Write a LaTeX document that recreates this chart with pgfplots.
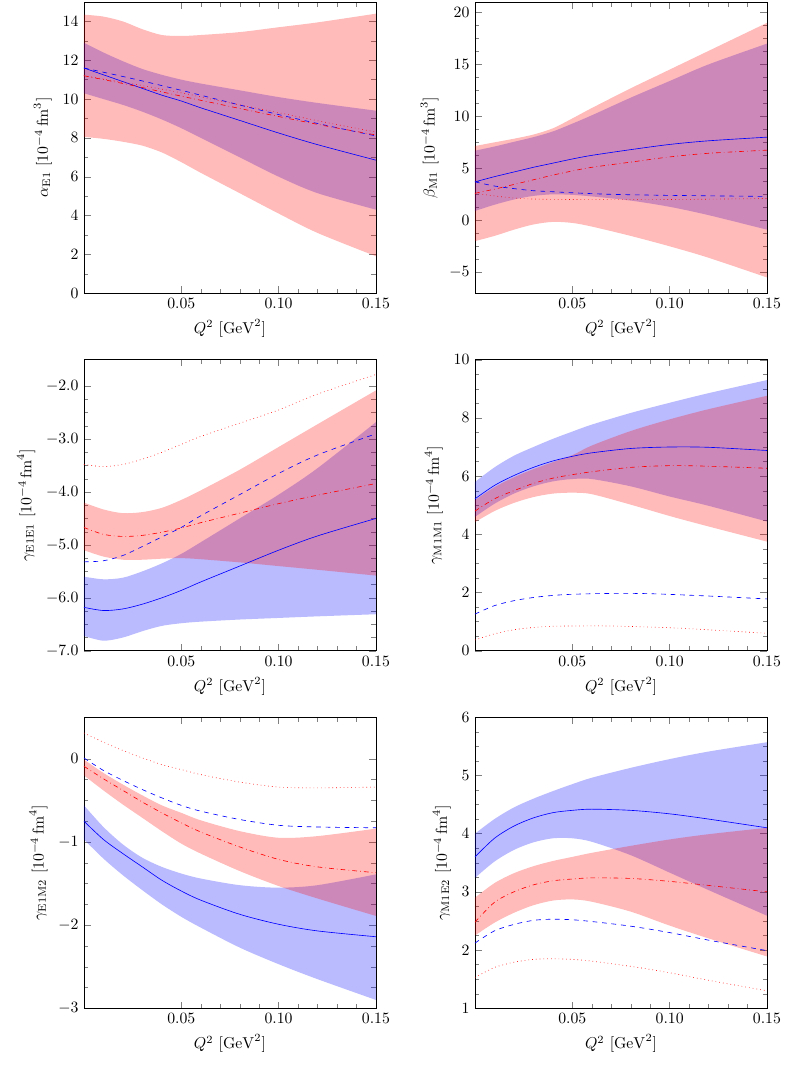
\documentclass[border=0pt]{standalone}
\usepackage{pgfplots}
\pgfplotsset{compat=1.18}
\usepgfplotslibrary{fillbetween}
\pgfplotsset{
  myaxis/.style={scale only axis, width=185.4pt, height=184.8pt,
    anchor=south west, xmin=0, xmax=0.15, xtick={0.05,0.1,0.15},
    minor x tick num=4, minor y tick num=3,
    xticklabel style={/pgf/number format/fixed,/pgf/number format/fixed zerofill,/pgf/number format/precision=2},
    xlabel={$Q^2\ [\mathrm{GeV}^2]$}},
  band/.style={draw=none, smooth, forget plot},
  bfill/.style={fill=blue, fill opacity=0.27, draw=none},
  rfill/.style={fill=red, fill opacity=0.27, draw=none},
  bsol/.style={blue, smooth},
  bdash/.style={blue, dashed, smooth},
  rdd/.style={red, dashdotted, smooth},
  rdot/.style={red, dotted, smooth},
}
\begin{document}
\begin{tikzpicture}
% ---------- panel 1
\begin{axis}[myaxis, at={(53.3pt,491.4pt)}, ymin=0, ymax=15, ytick={0,2,...,14}, minor y tick num=1,
  ylabel={$\alpha_{\mathrm{E1}}\ [10^{-4}\,\mathrm{fm}^3]$}]
\addplot[band, name path=p1ru] coordinates {(0,14.35)(0.01,14.25)(0.02,14.0)(0.03,13.6)(0.04,13.3)(0.05,13.25)(0.06,13.3)(0.08,13.45)(0.10,13.7)(0.12,13.95)(0.15,14.4)};
\addplot[band, name path=p1rl] coordinates {(0,8.05)(0.01,7.95)(0.02,7.8)(0.03,7.6)(0.04,7.25)(0.05,6.75)(0.06,6.2)(0.08,5.15)(0.10,4.1)(0.12,3.1)(0.15,1.9)};
\addplot[band, name path=p1bu] coordinates {(0,12.9)(0.01,12.4)(0.02,11.95)(0.03,11.55)(0.04,11.25)(0.05,11.0)(0.06,10.8)(0.08,10.45)(0.10,10.1)(0.12,9.8)(0.15,9.4)};
\addplot[band, name path=p1bl] coordinates {(0,10.3)(0.01,10.0)(0.02,9.7)(0.03,9.35)(0.04,8.95)(0.05,8.5)(0.06,8.0)(0.08,7.0)(0.10,6.0)(0.12,5.15)(0.15,4.3)};
\addplot[bfill] fill between[of=p1bu and p1bl];
\addplot[rfill] fill between[of=p1ru and p1rl];
\addplot[bsol] coordinates {(0,11.6)(0.01,11.25)(0.02,10.9)(0.03,10.55)(0.04,10.2)(0.05,9.9)(0.06,9.55)(0.08,8.9)(0.10,8.25)(0.12,7.65)(0.15,6.85)};
\addplot[bdash] coordinates {(0,11.6)(0.025,11.05)(0.05,10.45)(0.075,9.82)(0.10,9.2)(0.125,8.63)(0.15,8.1)};
\addplot[rdd] coordinates {(0,11.2)(0.025,10.7)(0.05,10.15)(0.075,9.62)(0.10,9.1)(0.125,8.6)(0.15,8.15)};
\addplot[rdot] coordinates {(0,11.2)(0.025,10.78)(0.05,10.32)(0.075,9.8)(0.10,9.3)(0.125,8.78)(0.15,8.3)};
\end{axis}
% ---------- panel 2
\begin{axis}[myaxis, at={(301.6pt,491.4pt)}, ymin=-7, ymax=21, ytick={-5,0,...,20},
  ylabel={$\beta_{\mathrm{M1}}\ [10^{-4}\,\mathrm{fm}^3]$}]
\addplot[band, name path=p2ru] coordinates {(0,7.15)(0.01,7.5)(0.02,7.85)(0.03,8.25)(0.04,8.85)(0.05,9.8)(0.06,10.8)(0.08,12.7)(0.10,14.5)(0.12,16.3)(0.15,19.0)};
\addplot[band, name path=p2rl] coordinates {(0,-2.0)(0.01,-1.5)(0.02,-0.9)(0.03,-0.4)(0.04,-0.15)(0.05,-0.25)(0.06,-0.6)(0.08,-1.5)(0.10,-2.5)(0.12,-3.6)(0.15,-5.5)};
\addplot[band, name path=p2bu] coordinates {(0,6.7)(0.01,7.1)(0.02,7.55)(0.03,8.0)(0.04,8.55)(0.05,9.3)(0.06,10.1)(0.08,11.8)(0.10,13.4)(0.12,15.0)(0.15,17.0)};
\addplot[band, name path=p2bl] coordinates {(0,0.9)(0.01,1.5)(0.02,2.0)(0.03,2.35)(0.04,2.5)(0.05,2.45)(0.06,2.3)(0.08,1.9)(0.10,1.3)(0.12,0.5)(0.15,-0.9)};
\addplot[bfill] fill between[of=p2bu and p2bl];
\addplot[rfill] fill between[of=p2ru and p2rl];
\addplot[bsol] coordinates {(0,3.7)(0.01,4.2)(0.02,4.65)(0.03,5.1)(0.04,5.5)(0.05,5.9)(0.06,6.25)(0.08,6.8)(0.10,7.3)(0.12,7.65)(0.15,8.0)};
\addplot[bdash] coordinates {(0,3.7)(0.01,3.3)(0.02,3.05)(0.03,2.85)(0.04,2.75)(0.05,2.65)(0.07,2.5)(0.10,2.4)(0.15,2.3)};
\addplot[rdd] coordinates {(0,2.6)(0.01,3.0)(0.02,3.45)(0.03,3.9)(0.04,4.35)(0.05,4.75)(0.06,5.1)(0.08,5.6)(0.10,6.1)(0.12,6.45)(0.15,6.75)};
\addplot[rdot] coordinates {(0,2.6)(0.01,2.35)(0.02,2.15)(0.03,2.05)(0.05,2.0)(0.10,2.0)(0.15,2.1)};
\end{axis}
% ---------- panel 3
\begin{axis}[myaxis, at={(53.3pt,264.3pt)}, ymin=-7, ymax=-1.5, ytick={-7,-6,...,-2},
  yticklabel style={/pgf/number format/fixed,/pgf/number format/fixed zerofill,/pgf/number format/precision=1},
  ylabel={$\gamma_{\mathrm{E1E1}}\ [10^{-4}\,\mathrm{fm}^4]$}]
\addplot[band, name path=p3ru] coordinates {(0,-4.2)(0.01,-4.33)(0.02,-4.4)(0.03,-4.38)(0.04,-4.3)(0.05,-4.15)(0.06,-3.97)(0.08,-3.58)(0.10,-3.15)(0.12,-2.72)(0.15,-2.08)};
\addplot[band, name path=p3rl] coordinates {(0,-5.1)(0.01,-5.22)(0.02,-5.28)(0.03,-5.28)(0.04,-5.26)(0.05,-5.25)(0.06,-5.27)(0.08,-5.33)(0.10,-5.4)(0.12,-5.47)(0.15,-5.58)};
\addplot[band, name path=p3bu] coordinates {(0,-5.6)(0.01,-5.65)(0.02,-5.62)(0.03,-5.5)(0.04,-5.35)(0.05,-5.17)(0.06,-4.95)(0.08,-4.5)(0.10,-4.05)(0.12,-3.55)(0.15,-2.68)};
\addplot[band, name path=p3bl] coordinates {(0,-6.72)(0.01,-6.81)(0.02,-6.75)(0.03,-6.63)(0.04,-6.53)(0.05,-6.48)(0.06,-6.45)(0.08,-6.41)(0.10,-6.38)(0.12,-6.35)(0.15,-6.31)};
\addplot[bfill] fill between[of=p3bu and p3bl];
\addplot[rfill] fill between[of=p3ru and p3rl];
\addplot[bsol] coordinates {(0,-6.18)(0.01,-6.24)(0.02,-6.21)(0.03,-6.12)(0.04,-6.0)(0.05,-5.86)(0.06,-5.7)(0.08,-5.4)(0.10,-5.1)(0.12,-4.83)(0.15,-4.5)};
\addplot[bdash] coordinates {(0,-5.32)(0.01,-5.3)(0.02,-5.2)(0.03,-5.03)(0.04,-4.85)(0.05,-4.67)(0.06,-4.45)(0.08,-4.05)(0.10,-3.65)(0.12,-3.3)(0.15,-2.9)};
\addplot[rdd] coordinates {(0,-4.67)(0.01,-4.8)(0.02,-4.84)(0.03,-4.82)(0.04,-4.76)(0.05,-4.68)(0.06,-4.58)(0.08,-4.4)(0.10,-4.22)(0.12,-4.06)(0.15,-3.84)};
\addplot[rdot] coordinates {(0,-3.48)(0.01,-3.52)(0.02,-3.48)(0.03,-3.38)(0.04,-3.25)(0.05,-3.1)(0.06,-2.95)(0.08,-2.7)(0.10,-2.45)(0.12,-2.15)(0.15,-1.78)};
\end{axis}
% ---------- panel 4
\begin{axis}[myaxis, at={(301.6pt,264.3pt)}, ymin=0, ymax=10, ytick={0,2,...,10},
  ylabel={$\gamma_{\mathrm{M1M1}}\ [10^{-4}\,\mathrm{fm}^4]$}]
\addplot[band, name path=p4ru] coordinates {(0,5.18)(0.01,5.62)(0.02,5.96)(0.03,6.24)(0.04,6.48)(0.05,6.72)(0.06,7.05)(0.08,7.55)(0.10,7.95)(0.12,8.3)(0.15,8.76)};
\addplot[band, name path=p4rl] coordinates {(0,4.42)(0.01,4.8)(0.02,5.08)(0.03,5.28)(0.04,5.4)(0.05,5.43)(0.06,5.38)(0.08,5.02)(0.10,4.63)(0.12,4.27)(0.15,3.75)};
\addplot[band, name path=p4bu] coordinates {(0,5.8)(0.01,6.3)(0.02,6.7)(0.03,7.0)(0.04,7.28)(0.05,7.53)(0.06,7.77)(0.08,8.17)(0.10,8.52)(0.12,8.85)(0.15,9.3)};
\addplot[band, name path=p4bl] coordinates {(0,4.6)(0.01,5.05)(0.02,5.4)(0.03,5.65)(0.04,5.82)(0.05,5.9)(0.06,5.9)(0.08,5.65)(0.10,5.3)(0.12,4.98)(0.15,4.44)};
\addplot[bfill] fill between[of=p4bu and p4bl];
\addplot[rfill] fill between[of=p4ru and p4rl];
\addplot[bsol] coordinates {(0,5.22)(0.01,5.68)(0.02,6.02)(0.03,6.3)(0.04,6.52)(0.05,6.68)(0.06,6.8)(0.08,6.95)(0.10,7.0)(0.12,6.99)(0.15,6.88)};
\addplot[bdash] coordinates {(0,1.26)(0.01,1.55)(0.02,1.72)(0.03,1.83)(0.04,1.9)(0.05,1.94)(0.07,1.97)(0.09,1.96)(0.12,1.88)(0.15,1.78)};
\addplot[rdd] coordinates {(0,4.8)(0.01,5.22)(0.02,5.5)(0.03,5.75)(0.04,5.93)(0.05,6.05)(0.06,6.15)(0.08,6.3)(0.10,6.36)(0.12,6.34)(0.15,6.27)};
\addplot[rdot] coordinates {(0,0.37)(0.01,0.58)(0.02,0.72)(0.03,0.8)(0.04,0.84)(0.05,0.85)(0.07,0.85)(0.10,0.79)(0.12,0.72)(0.15,0.6)};
\end{axis}
% ---------- panel 5
\begin{axis}[myaxis, at={(53.3pt,37.3pt)}, ymin=-3, ymax=0.5, ytick={-3,-2,-1,0},
  ylabel={$\gamma_{\mathrm{E1M2}}\ [10^{-4}\,\mathrm{fm}^4]$}]
\addplot[band, name path=p5ru] coordinates {(0,-0.01)(0.01,-0.17)(0.02,-0.31)(0.03,-0.44)(0.04,-0.56)(0.05,-0.65)(0.06,-0.74)(0.08,-0.87)(0.10,-0.95)(0.12,-0.93)(0.15,-0.84)};
\addplot[band, name path=p5rl] coordinates {(0,-0.2)(0.01,-0.38)(0.02,-0.55)(0.03,-0.71)(0.04,-0.87)(0.05,-1.02)(0.06,-1.14)(0.08,-1.35)(0.10,-1.53)(0.12,-1.68)(0.15,-1.89)};
\addplot[band, name path=p5bu] coordinates {(0,-0.56)(0.01,-0.82)(0.02,-1.03)(0.03,-1.19)(0.04,-1.3)(0.05,-1.38)(0.06,-1.44)(0.08,-1.52)(0.10,-1.55)(0.12,-1.52)(0.15,-1.39)};
\addplot[band, name path=p5bl] coordinates {(0,-0.97)(0.01,-1.2)(0.02,-1.4)(0.03,-1.58)(0.04,-1.75)(0.05,-1.9)(0.06,-2.03)(0.08,-2.27)(0.10,-2.47)(0.12,-2.65)(0.15,-2.9)};
\addplot[bfill] fill between[of=p5bu and p5bl];
\addplot[rfill] fill between[of=p5ru and p5rl];
\addplot[bsol] coordinates {(0,-0.75)(0.01,-0.97)(0.02,-1.14)(0.03,-1.3)(0.04,-1.46)(0.05,-1.59)(0.06,-1.7)(0.08,-1.87)(0.10,-1.99)(0.12,-2.07)(0.15,-2.14)};
\addplot[bdash] coordinates {(0,0.01)(0.01,-0.14)(0.02,-0.26)(0.03,-0.37)(0.04,-0.47)(0.05,-0.56)(0.06,-0.63)(0.08,-0.73)(0.10,-0.8)(0.12,-0.82)(0.15,-0.83)};
\addplot[rdd] coordinates {(0,-0.09)(0.01,-0.24)(0.02,-0.38)(0.03,-0.52)(0.04,-0.65)(0.05,-0.77)(0.06,-0.88)(0.08,-1.06)(0.10,-1.21)(0.12,-1.3)(0.15,-1.37)};
\addplot[rdot] coordinates {(0,0.31)(0.01,0.2)(0.02,0.1)(0.03,0.01)(0.04,-0.07)(0.05,-0.13)(0.06,-0.19)(0.08,-0.28)(0.10,-0.34)(0.12,-0.35)(0.15,-0.34)};
\end{axis}
% ---------- panel 6
\begin{axis}[myaxis, at={(301.6pt,37.3pt)}, ymin=1, ymax=6, ytick={1,2,...,6},
  ylabel={$\gamma_{\mathrm{M1E2}}\ [10^{-4}\,\mathrm{fm}^4]$}]
\addplot[band, name path=p6ru] coordinates {(0,2.9)(0.01,3.15)(0.02,3.32)(0.03,3.44)(0.04,3.53)(0.05,3.6)(0.06,3.67)(0.08,3.79)(0.10,3.9)(0.12,3.99)(0.15,4.1)};
\addplot[band, name path=p6rl] coordinates {(0,2.25)(0.01,2.47)(0.02,2.64)(0.03,2.77)(0.04,2.85)(0.05,2.87)(0.06,2.83)(0.08,2.66)(0.10,2.42)(0.12,2.2)(0.15,1.89)};
\addplot[band, name path=p6bu] coordinates {(0,4.0)(0.01,4.25)(0.02,4.45)(0.03,4.6)(0.04,4.73)(0.05,4.85)(0.06,4.96)(0.08,5.13)(0.10,5.28)(0.12,5.41)(0.15,5.57)};
\addplot[band, name path=p6bl] coordinates {(0,3.24)(0.01,3.52)(0.02,3.72)(0.03,3.85)(0.04,3.92)(0.05,3.92)(0.06,3.86)(0.08,3.63)(0.10,3.33)(0.12,3.03)(0.15,2.59)};
\addplot[bfill] fill between[of=p6bu and p6bl];
\addplot[rfill] fill between[of=p6ru and p6rl];
\addplot[bsol] coordinates {(0,3.6)(0.01,3.92)(0.02,4.13)(0.03,4.27)(0.04,4.36)(0.05,4.4)(0.06,4.42)(0.08,4.4)(0.10,4.34)(0.12,4.25)(0.15,4.1)};
\addplot[bdash] coordinates {(0,2.12)(0.01,2.33)(0.02,2.44)(0.03,2.51)(0.04,2.53)(0.05,2.52)(0.06,2.49)(0.08,2.41)(0.10,2.3)(0.12,2.17)(0.15,1.99)};
\addplot[rdd] coordinates {(0,2.48)(0.01,2.82)(0.02,3.0)(0.03,3.12)(0.04,3.19)(0.05,3.22)(0.06,3.24)(0.08,3.23)(0.10,3.18)(0.12,3.11)(0.15,3.0)};
\addplot[rdot] coordinates {(0,1.53)(0.01,1.7)(0.02,1.79)(0.03,1.84)(0.04,1.85)(0.05,1.84)(0.06,1.81)(0.08,1.72)(0.10,1.61)(0.12,1.48)(0.15,1.3)};
\end{axis}
\pgfresetboundingbox
\path (0,0) rectangle (506pt,677.5pt);
\end{tikzpicture}
\end{document}
